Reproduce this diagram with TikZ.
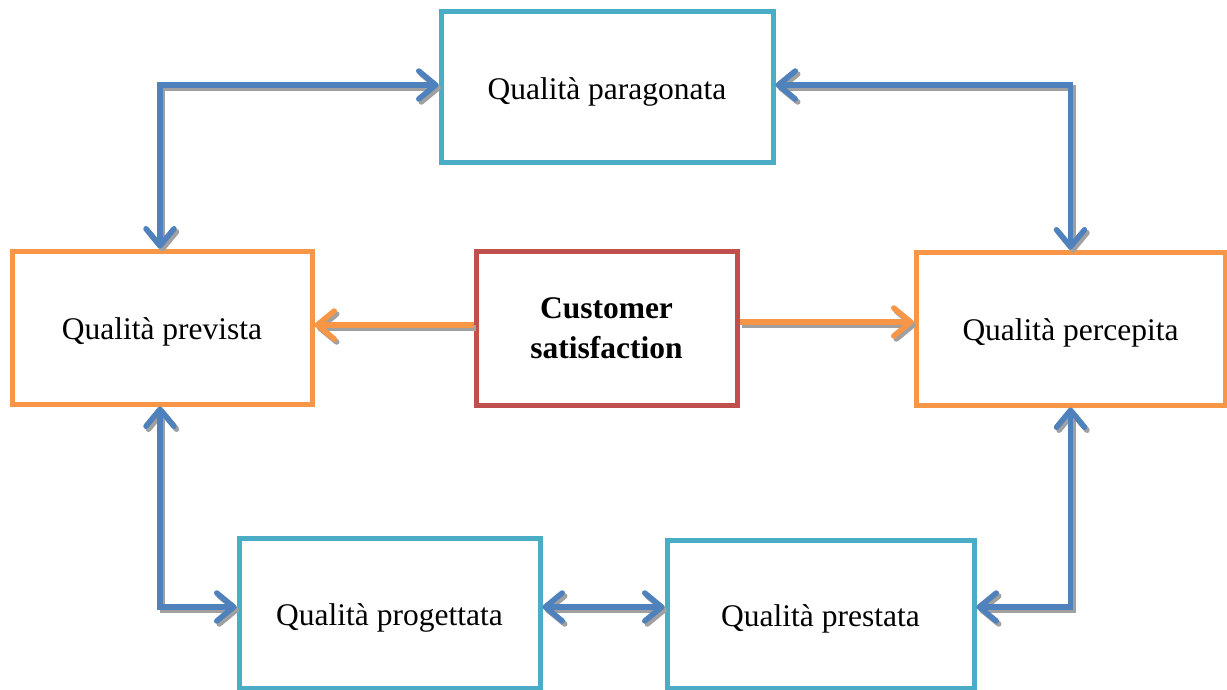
\documentclass[tikz,border=0pt]{standalone}
\usepackage{fontspec}
\setmainfont{Liberation Serif}
\usetikzlibrary{arrows.meta}
\definecolor{boxteal}{HTML}{4BACC6}
\definecolor{boxorange}{HTML}{F79646}
\definecolor{boxred}{HTML}{C0504D}
\definecolor{linkblue}{HTML}{4F81BD}
\definecolor{shade}{HTML}{A0A0A0}
\tikzset{
  qbox/.style={draw, line width=5pt, rectangle, inner sep=0pt, fill=white,
    font=\fontsize{31.5}{38}\selectfont, align=center},
  oneline/.style={text height=31pt, text depth=7pt},
  tealbox/.style={qbox, oneline, draw=boxteal},
  orangebox/.style={qbox, oneline, draw=boxorange},
  redbox/.style={qbox, draw=boxred},
  link/.style={line width=5.5pt, line join=miter,
    arrows={-Straight Barb[length=17pt,width=28pt,round]}},
  twoway/.style={line width=5.5pt, line join=miter,
    arrows={Straight Barb[length=17pt,width=28pt,round]-Straight Barb[length=17pt,width=28pt,round]}},
  shadow/.style={draw=shade, transform canvas={shift={(2.5pt,-3pt)}}},
  bluelink/.style={draw=linkblue},
  orangelink/.style={draw=boxorange},
}
% each connector is drawn twice: a grey drop shadow, then the coloured line
\newcommand\shadowedlink[3]{%
  \draw[#1, shadow] #3;
  \draw[#1, #2] #3;}
\begin{document}
\begin{tikzpicture}[x=1pt,y=-1pt]
\useasboundingbox (0,0) rectangle (1227,690);

% boxes
\node[tealbox, minimum width=332pt, minimum height=151pt] (par) at (607,87.5) {Qualità paragonata};
\node[orangebox, minimum width=300pt, minimum height=153pt] (prev) at (162,327.5) {Qualità prevista};
\node[redbox, minimum width=261pt, minimum height=154pt] (cs) at (606.5,328) {\bfseries Customer\\[2pt]\bfseries satisfaction};
\node[orangebox, minimum width=309pt, minimum height=153pt] (perc) at (1070.5,328.5) {Qualità percepita};
\node[tealbox, minimum width=301pt, minimum height=150pt] (prog) at (389.5,613) {Qualità progettata};
\node[tealbox, minimum width=307pt, minimum height=148pt] (pres) at (820.5,614) {Qualità prestata};

% connectors between the quality boxes
\shadowedlink{twoway}{bluelink}{(prev.north -| 160,0) |- (par.west |- 0,85)}
\shadowedlink{twoway}{bluelink}{(par.east |- 0,85) -| (perc.north)}
\shadowedlink{twoway}{bluelink}{(prev.south -| 160,0) |- (prog.west |- 0,607)}
\shadowedlink{twoway}{bluelink}{(prog.east |- 0,607) -- (pres.west |- 0,607)}
\shadowedlink{twoway}{bluelink}{(pres.east |- 0,607) -| (perc.south)}

% customer satisfaction feeds both sides
\shadowedlink{link}{orangelink}{(cs.west |- 0,325) -- (prev.east |- 0,325)}
\shadowedlink{link}{orangelink}{(cs.east |- 0,322) -- (perc.west |- 0,322)}
\end{tikzpicture}
\end{document}
